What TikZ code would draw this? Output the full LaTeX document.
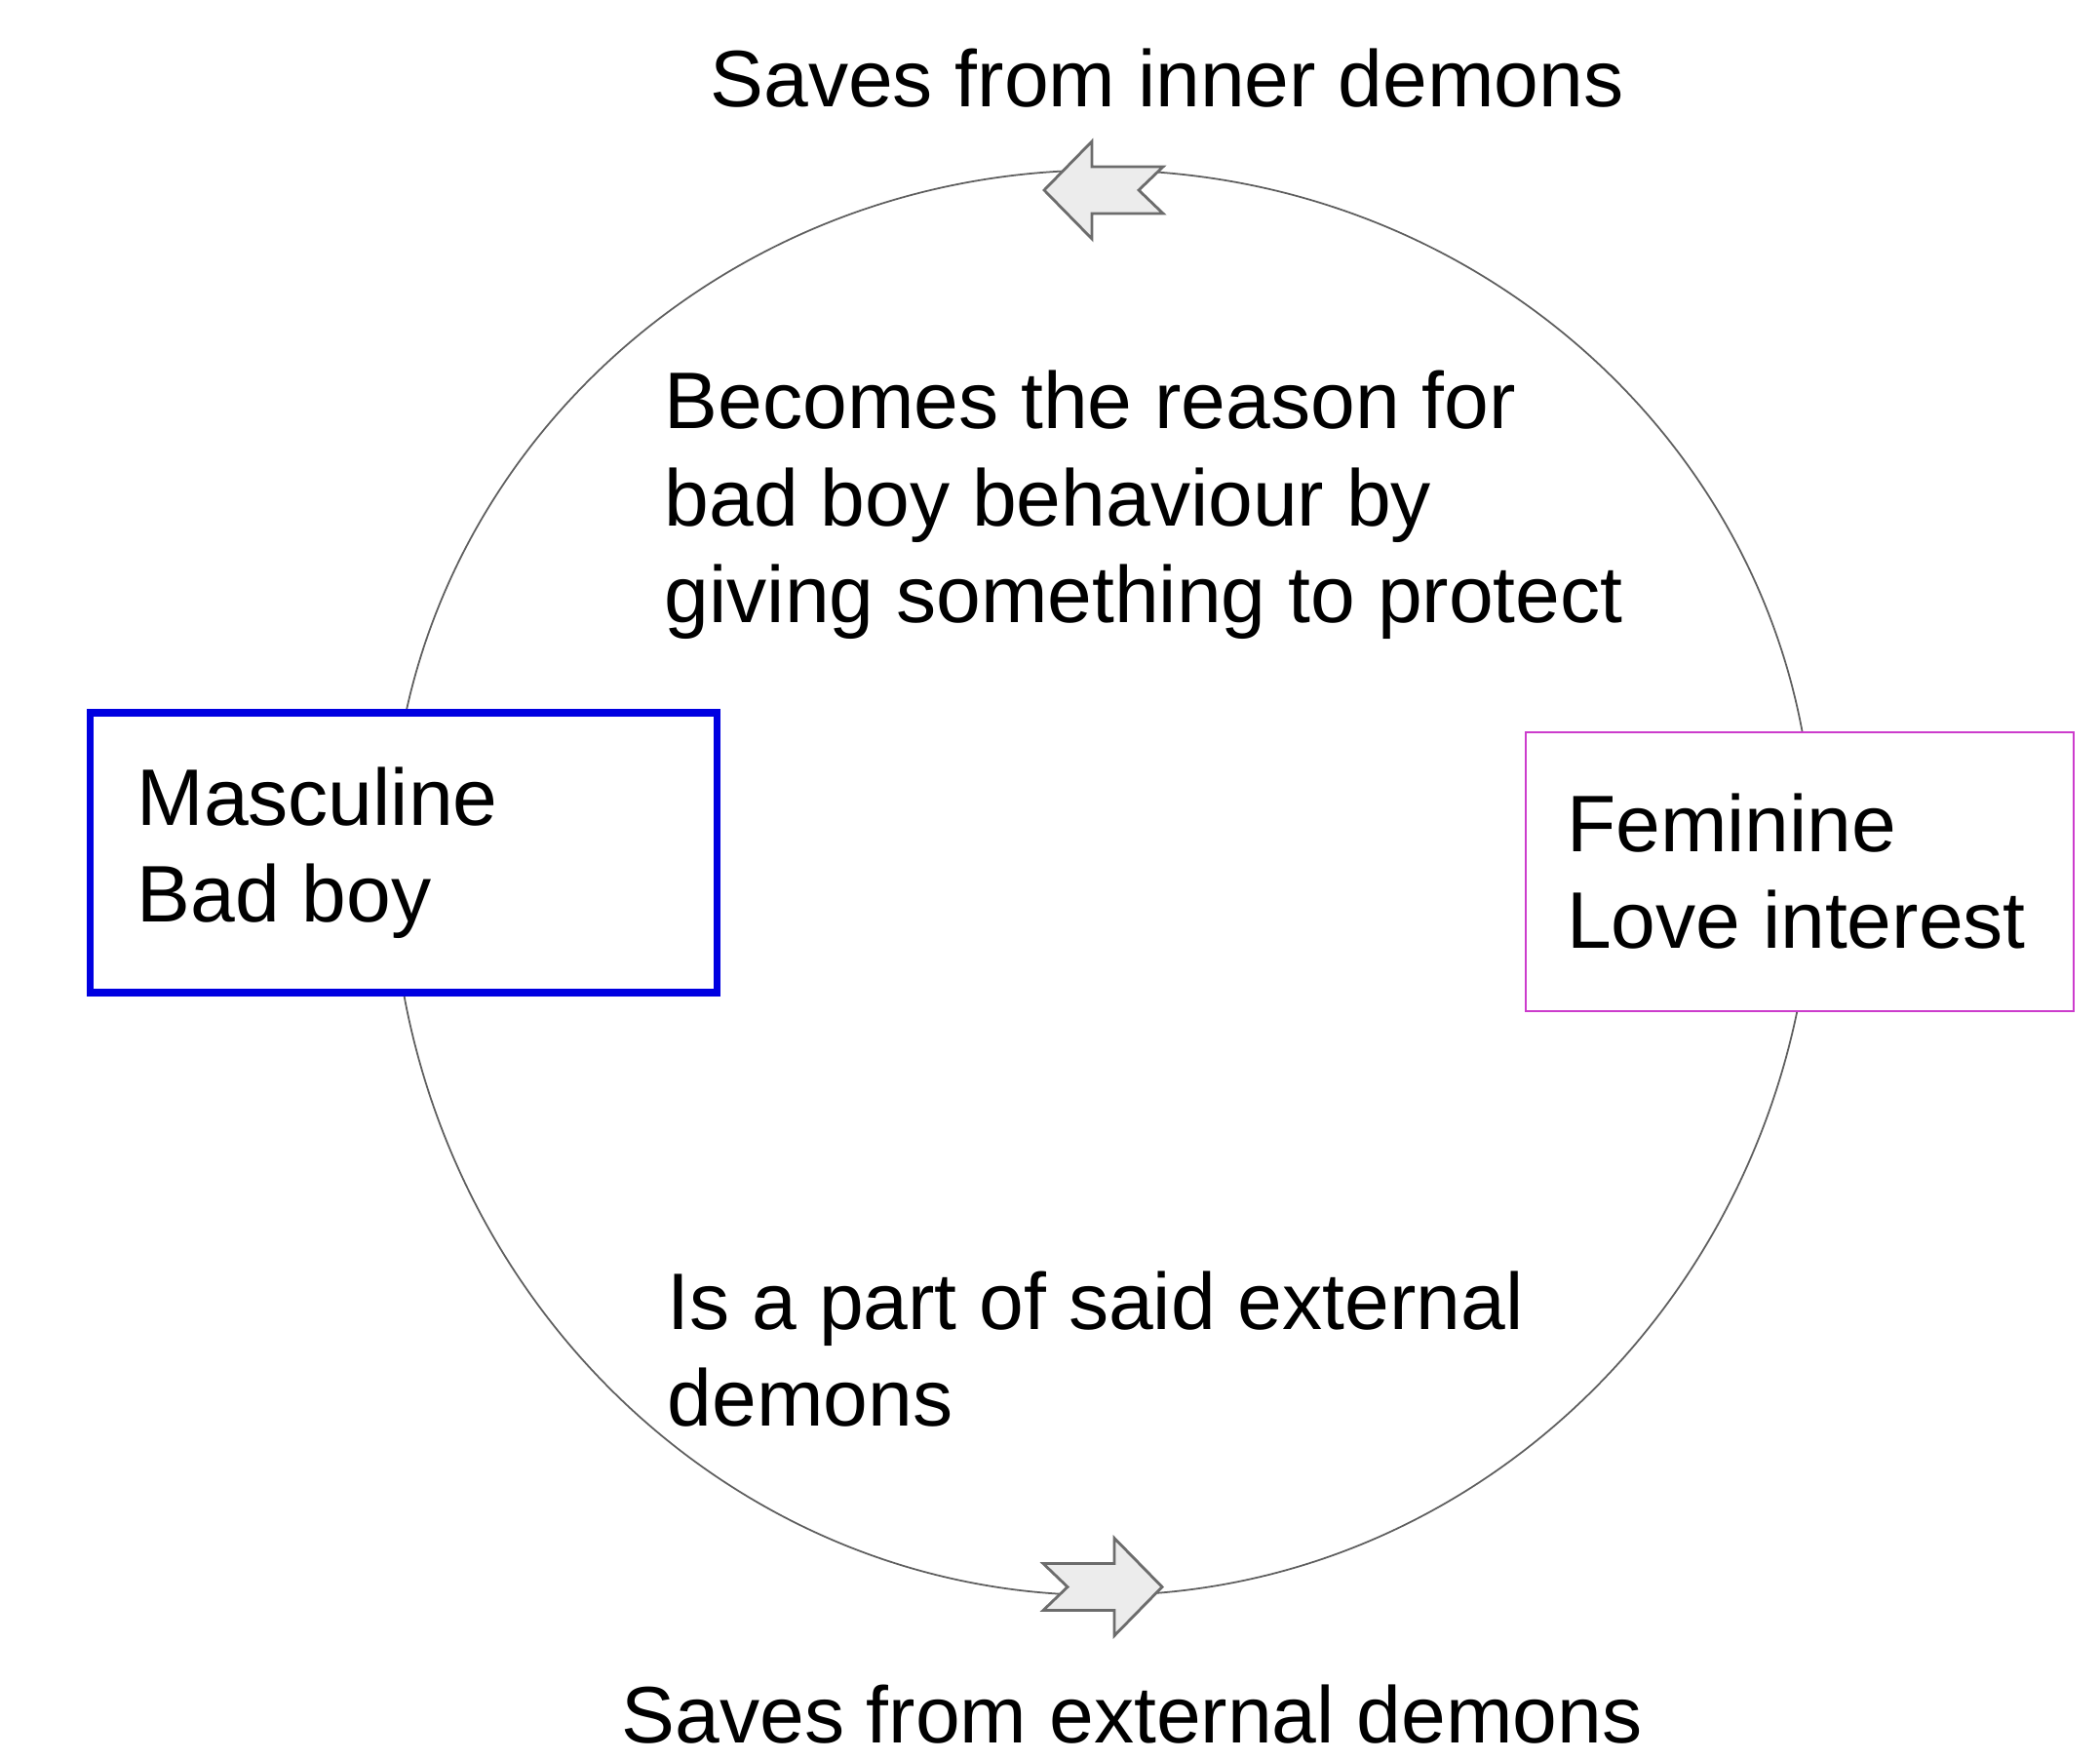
\documentclass[tikz,border=0pt]{standalone}
\usepackage{fontspec}
\setmainfont{Liberation Sans}
\usetikzlibrary{positioning}
\usetikzlibrary{calc}
\pgfdeclarelayer{background}
\pgfsetlayers{background,main}

\definecolor{boyblue}{RGB}{0,0,225}
\definecolor{girlpink}{RGB}{204,60,204}
\definecolor{arrowfill}{RGB}{236,236,236}
\definecolor{loopgray}{RGB}{95,95,95}

\tikzset{
    role box/.style={rectangle, draw, fill=white, align=flush left,
        inner ysep=0},
    loop line/.style={draw=loopgray, line width=0.5pt},
    flow arrow/.pic={
        \draw [fill=arrowfill, draw=gray!85!black, line width=0.8pt]
            (6.1mm,0) -- (1.2mm,5mm) -- (1.2mm,2.4mm) -- (-6.1mm,2.4mm)
            -- (-3.6mm,0) -- (-6.1mm,-2.4mm) -- (1.2mm,-2.4mm)
            -- (1.2mm,-5mm) -- cycle;
    }
}

\begin{document}
\begin{tikzpicture}[font=\fontsize{23.4pt}{28.2pt}\selectfont]

\useasboundingbox (0,0) rectangle (215.4mm,-180.5mm);

% The two roles

\node [
    role box, draw=boyblue, line width=2.2pt,
    minimum width=64.3mm, minimum height=28.7mm,
    text width=54.7mm, inner xsep=4.8mm] (masculine) at (41.4mm,-87.45mm)
    {
        Masculine\\
        Bad boy
    };

\node [
    role box, draw=girlpink, line width=0.7pt,
    minimum width=56.2mm, minimum height=28.6mm,
    text width=47.8mm, inner xsep=4.2mm] (feminine) at (184.6mm,-89.4mm)
    {
        Feminine\\
        Love interest
    };

% The loop between them

\begin{pgfonlayer}{background}
\draw [loop line] ([xshift=-1.3mm]masculine.center)
    arc [start angle=180, end angle=0, x radius=72.95mm, y radius=70mm];
\draw [loop line] ([xshift=-1.3mm]masculine.center)
    arc [start angle=180, end angle=360, x radius=72.95mm, y radius=76.15mm];
\end{pgfonlayer}

\pic [rotate=180] (inner arrow) at (113.2mm,-19.5mm) {flow arrow};
\pic (outer arrow) at (113.1mm,-162.75mm) {flow arrow};

\node [anchor=base, inner sep=0] (inner label) at (119.7mm,-11mm)
    {Saves from inner demons};
\node [anchor=base, inner sep=0] (outer label) at (116.1mm,-178.7mm)
    {Saves from external demons};

\node [anchor=base west, inner sep=0, text width=110mm, align=flush left]
    (reason) at (68.1mm,-44mm)
    {
        Becomes the reason for\\
        bad boy behaviour by\\
        giving something to protect
    };
\node [anchor=base west, inner sep=0, text width=110mm, align=flush left]
    (part) at (68.4mm,-136.3mm)
    {
        Is a part of said external\\
        demons
    };

\end{tikzpicture}
\end{document}
